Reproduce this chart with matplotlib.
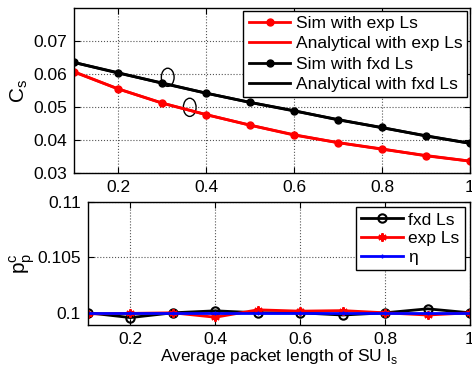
import numpy as np
import matplotlib
matplotlib.use('Agg')
import matplotlib.pyplot as plt
from matplotlib.patches import Ellipse

plt.rcParams['font.family'] = ['Liberation Sans', 'DejaVu Sans']
plt.rcParams['font.size'] = 12.5

# data
ls = [0.1, 0.2, 0.3, 0.4, 0.5, 0.6, 0.7, 0.8, 0.9, 1.0]
cs_exp_sim = [0.0607, 0.0555, 0.0512, 0.0477, 0.0445, 0.0415, 0.0392, 0.0373, 0.0352, 0.0336]
cs_exp_ana = [0.0606, 0.0555, 0.0512, 0.0477, 0.0445, 0.0416, 0.0392, 0.0372, 0.0353, 0.0336]
cs_fxd_sim = [0.0635, 0.0604, 0.0572, 0.0542, 0.0514, 0.0489, 0.0461, 0.0438, 0.0412, 0.0390]
cs_fxd_ana = [0.0635, 0.0603, 0.0573, 0.0542, 0.0514, 0.0488, 0.0462, 0.0437, 0.0413, 0.0390]

pp_fxd = [0.1000, 0.09957, 0.1000, 0.10018, 0.1000, 0.1000, 0.0998, 0.1000, 0.10036, 0.1000]
pp_exp = [0.0999, 0.09995, 0.1000, 0.0996, 0.10027, 0.10015, 0.1002, 0.1000, 0.0998, 0.1000]
eta = [0.1] * 10

W, H = 472, 369
fig = plt.figure(figsize=(W / 100, H / 100), dpi=100)

def box(l, t, r, b):
    return [l / W, 1 - b / H, (r - l) / W, (b - t) / H]

ax1 = fig.add_axes(box(74, 8, 470, 173))
ax2 = fig.add_axes(box(88, 202, 470, 325))

# top
ax1.plot(ls, cs_exp_sim, 'r.-', lw=2, ms=10, label='Sim with exp Ls')
ax1.plot(ls, cs_exp_ana, 'r-', lw=2, label='Analytical with exp Ls')
ax1.plot(ls, cs_fxd_sim, 'k.-', lw=2, ms=10, label='Sim with fxd Ls')
ax1.plot(ls, cs_fxd_ana, 'k-', lw=2, label='Analytical with fxd Ls')
ax1.add_patch(Ellipse((0.313, 0.059), 0.029, 0.0055, fill=False, lw=1, ec='k'))
ax1.add_patch(Ellipse((0.363, 0.0499), 0.029, 0.0055, fill=False, lw=1, ec='k'))
ax1.set_xlim(0.1, 1)
ax1.set_ylim(0.03, 0.08)
ax1.set_xticks([0.2, 0.4, 0.6, 0.8, 1.0])
ax1.set_xticklabels(['0.2', '0.4', '0.6', '0.8', '1'])
ax1.set_yticks([0.03, 0.04, 0.05, 0.06, 0.07])
ax1.set_ylabel('C$_\\mathregular{s}$', fontsize=15, labelpad=2)
ax1.legend(loc='upper right', fancybox=False, edgecolor='k', framealpha=1,
           borderaxespad=0.15, handlelength=2.4, handletextpad=0.3,
           labelspacing=0.3, borderpad=0.3)

# bottom
ax2.plot(ls, pp_fxd, 'k-', marker='o', mfc='none', mew=1.5, ms=6, lw=2, label='fxd Ls')
ax2.plot(ls, pp_exp, 'r-', marker=(6, 2, 0), ms=6, mew=1.5, lw=2, label='exp Ls')
ax2.plot(ls, eta, 'b-', marker='+', ms=3, lw=2, label='\u03b7')
ax2.set_xlim(0.1, 1)
ax2.set_ylim(0.0989, 0.11)
ax2.set_xticks([0.2, 0.4, 0.6, 0.8, 1.0])
ax2.set_xticklabels(['0.2', '0.4', '0.6', '0.8', '1'])
ax2.set_yticks([0.1, 0.105, 0.11])
ax2.set_yticklabels(['0.1', '0.105', '0.11'])
ax2.set_ylabel('p$_\\mathregular{p}^\\mathregular{c}$', fontsize=15, labelpad=0)
ax2.set_xlabel('Average packet length of SU l$_\\mathregular{s}$', labelpad=0)
ax2.legend(loc='upper right', fancybox=False, edgecolor='k', framealpha=1,
           borderaxespad=0.3, handlelength=2.4, handletextpad=0.3,
           labelspacing=0.2, borderpad=0.3)

for ax in (ax1, ax2):
    ax.grid(True, ls=':', color='#555555', lw=0.8)
    ax.tick_params(direction='in', length=4, top=True, right=True, pad=5)
    for s in ax.spines.values():
        s.set_linewidth(1)

fig.savefig('out.png', dpi=100)
